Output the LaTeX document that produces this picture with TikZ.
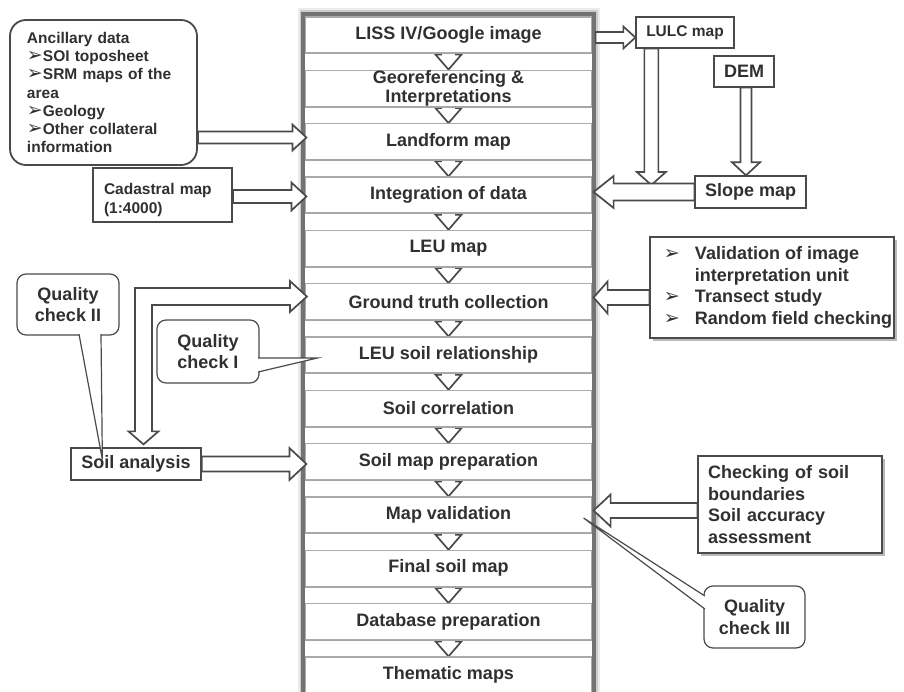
\documentclass[tikz,border=0pt]{standalone}
\usepackage{fontspec}
\setmainfont{Liberation Sans}
\newfontfamily\dejavu{DejaVu Sans}
\usetikzlibrary{calc,shadows}
\definecolor{tc}{HTML}{303030}
\definecolor{lc}{HTML}{4a4a4a}
\definecolor{sc}{HTML}{ababab}
\pgfdeclarelayer{bg}
\pgfsetlayers{bg,main}
\newcommand{\bul}{\smash{\dejavu\fontsize{19}{19}\selectfont ➢}}
\newcommand{\bulv}{\smash{\dejavu\fontsize{19}{19}\selectfont ➢}}
\newcommand{\fntS}{\fontsize{18}{19.5}\selectfont\bfseries}
\newcommand{\fntSm}{\fontsize{15.5}{18.3}\selectfont\bfseries}
\newcommand{\fntL}{\fontsize{18}{21.7}\selectfont\bfseries}
\newcommand{\fntQ}{\fontsize{18}{21.5}\selectfont\bfseries}
% block arrows: start, tip, half shaft, half head, head length
\newcommand{\rarr}[5]{\draw[barrow] let \p1=#1, \p2=#2 in (\x1,\y1+#3) -- (\x2-#5,\y1+#3) -- (\x2-#5,\y1+#4) -- (\x2,\y1) -- (\x2-#5,\y1-#4) -- (\x2-#5,\y1-#3) -- (\x1,\y1-#3) -- cycle;}
\newcommand{\larr}[5]{\draw[barrow] let \p1=#1, \p2=#2 in (\x1,\y1+#3) -- (\x2+#5,\y1+#3) -- (\x2+#5,\y1+#4) -- (\x2,\y1) -- (\x2+#5,\y1-#4) -- (\x2+#5,\y1-#3) -- (\x1,\y1-#3) -- cycle;}
\newcommand{\darr}[5]{\draw[barrow] let \p1=#1, \p2=#2 in (\x1+#3,\y1) -- (\x1+#3,\y2+#5) -- (\x1+#4,\y2+#5) -- (\x1,\y2) -- (\x1-#4,\y2+#5) -- (\x1-#3,\y2+#5) -- (\x1-#3,\y1) -- cycle;}
\newcommand{\calltail}[3]{\fill[white] #1 -- #3 -- #2 -- cycle; \draw[calline] #1 -- #3 -- #2;}
\tikzset{
  stage/.style={draw=sc, line width=1.2pt, fill=white, minimum width=286pt, minimum height=36pt, inner sep=0pt, align=center, font=\fntS, text=tc},
  barrow/.style={draw=lc, line width=1.7pt, fill=white, line join=miter},
  sbox/.style={draw=lc, line width=1.3pt, fill=white, inner sep=0pt, text=tc},
  shadowed/.style={drop shadow={shadow xshift=3pt, shadow yshift=-3pt, fill=black!45, opacity=0.6}},
  callout/.style={draw=lc, line width=1.2pt, fill=white, rounded corners=9pt, inner sep=0pt, align=center, font=\fntQ, text=tc},
  calline/.style={draw=lc, line width=1.2pt, line join=miter},
}
\begin{document}
\begin{tikzpicture}[x=1pt,y=-1pt]
\useasboundingbox (0,0) rectangle (904,692);

% central stages
\node[stage] (s1) at (448.5,35) {LISS IV/Google image};
\node[stage] (s2) at (448.5,88.3) {Georeferencing \&\\Interpretations};
\node[stage] (s3) at (448.5,141.7) {Landform map};
\node[stage] (s4) at (448.5,195) {Integration of data};
\node[stage] (s5) at (448.5,248.3) {LEU map};
\node[stage] (s6) at (448.5,301.7) {Ground truth collection};
\node[stage] (s7) at (448.5,355) {LEU soil relationship};
\node[stage] (s8) at (448.5,408.3) {Soil correlation};
\node[stage] (s9) at (448.5,461.7) {Soil map preparation};
\node[stage] (s10) at (448.5,515) {Map validation};
\node[stage] (s11) at (448.5,568.3) {Final soil map};
\node[stage] (s12) at (448.5,621.7) {Database preparation};
\node[stage] (s13) at (448.5,675) {Thematic maps};
\foreach \n in {1,...,13} \draw[gray!70, line width=1.6pt] (s\n.south west) -- (s\n.south east);

\begin{pgfonlayer}{bg}
\draw[black!8, line width=11pt] (303,14) rectangle (594,720);
\draw[black!20, line width=7pt] (303,14) rectangle (594,720);
\draw[black!55, line width=3.5pt, fill=white] (303,14) rectangle (594,720);
\foreach \i [count=\j from 2] in {1,...,12} {
  \darr{($(s\i.south)+(0,-8)$)}{(s\j.north)}{7.5pt}{13pt}{15pt}
}
\end{pgfonlayer}

% left side
\node[draw=lc, line width=1.8pt, rounded corners=16pt, fill=white, text width=153pt, inner xsep=17pt, inner ysep=0pt, minimum height=145pt, align=left, font=\fntSm, text=tc] (anc) at (103.5,92.5)
  {Ancillary data\\\bul SOI toposheet\\\bul SRM maps of the\\area\\\bul Geology\\\bul Other collateral\\information};
\node[sbox, line width=1.8pt, text width=117pt, inner xsep=11pt, minimum height=54pt, align=left, font=\fntSm] (cad) at (162.5,195) {\rule{0pt}{21pt}Cadastral map\\(1:4000)};
\node[sbox, minimum width=130pt, minimum height=32pt, font=\fntS] (soil) at (136,464) {Soil analysis};
\node[callout, minimum width=102pt, minimum height=61pt] (qc2) at (68,304.5) {Quality\\check II};
\node[callout, minimum width=102pt, minimum height=63pt] (qc1) at (208,351.5) {Quality\\check I};

% right side
\node[sbox, minimum width=98pt, minimum height=31pt, font=\fntSm] (lulc) at (685,32.5) {LULC map};
\node[sbox, minimum width=60pt, minimum height=31pt, font=\fntS] (dem) at (744,71.5) {DEM};
\node[sbox, minimum width=111pt, minimum height=32pt, font=\fntS] (slope) at (750.5,192) {Slope map};
\node[sbox, shadowed, minimum width=244pt, minimum height=101pt, align=left, font=\fntL] (valid) at (772,287.5)
  {\hspace*{12pt}\makebox[31pt][l]{\bulv}Validation of image\\\hspace*{43pt}interpretation unit\\\hspace*{12pt}\makebox[31pt][l]{\bulv}Transect study\\\hspace*{12pt}\makebox[31pt][l]{\bulv}Random field checking};
\node[sbox, shadowed, text width=164pt, inner xsep=10pt, minimum height=97pt, align=left, font=\fntL] (check) at (790,504.5)
  {Checking of soil\\boundaries\\Soil accuracy\\assessment};
\node[callout, minimum width=101pt, minimum height=62pt] (qc3) at (754.5,617) {Quality\\check III};

% connector points
\coordinate (ancA) at ($(anc.east)+(0,45)$);
\coordinate (cadA) at ($(cad.east)+(0,1.5)$);
\coordinate (lc) at (143.5,296.5);
\coordinate (lA) at ($(s1.east)+(3.5,2.5)$);
\coordinate (lB) at ($(lulc.south west)+(16,0)$);
\coordinate (lulcT) at ($(slope.west)+(-43,-7)$);
\coordinate (dA) at ($(dem.south)+(2,0)$);
\coordinate (vA) at ($(valid.west)+(0,10)$);
\coordinate (cA) at ($(check.west)+(0,6)$);
\coordinate (qc2t) at ($(soil.north west)+(32,12)$);

% left arrows
\rarr{(ancA)}{($(s3.west |- ancA)+(1.5,0)$)}{6pt}{13pt}{14pt}
\rarr{(cadA)}{($(s4.west |- cadA)+(1.5,0)$)}{6.5pt}{14pt}{15pt}
\rarr{(soil.east)}{($(s9.west |- soil.east)+(1.5,0)$)}{7.5pt}{16pt}{17pt}
\draw[barrow] let \p1=(lc), \p2=($(s6.west |- lc)+(2,0)$), \p3=($(soil.north -| lc)+(0,-3)$) in
  (\x1-8.5pt,\y1+8.5pt) -- (\x2-17pt,\y1+8.5pt) -- (\x2-17pt,\y1+15.5pt) -- (\x2,\y1)
  -- (\x2-17pt,\y1-15.5pt) -- (\x2-17pt,\y1-8.5pt) -- (\x1+8.5pt,\y1-8.5pt)
  -- (\x1+8.5pt,\y3+13pt) -- (\x1+15pt,\y3+13pt) -- (\x1,\y3) -- (\x1-15pt,\y3+13pt)
  -- (\x1-8.5pt,\y3+13pt) -- cycle;

% right arrows
\rarr{(lA)}{(lulc.west |- lA)}{5.5pt}{11pt}{12pt}
\darr{(lB)}{(lulcT)}{7pt}{14.5pt}{13pt}
\darr{(dA)}{(slope.north)}{5.5pt}{14pt}{13pt}
\larr{(slope.west)}{($(s4.east |- slope.west)+(1.5,0)$)}{8.5pt}{16pt}{20pt}
\larr{(vA)}{($(s6.east |- vA)+(1.5,0)$)}{7.5pt}{16pt}{14pt}
\larr{(cA)}{($(s10.east |- cA)+(1.5,0)$)}{7.5pt}{16pt}{17pt}

% callout tails
\calltail{($(qc2.south)+(11,-1.5)$)}{($(qc2.south)+(33,-1.5)$)}{(qc2t)}
\calltail{($(qc1.east)+(-1.5,6.5)$)}{($(qc1.east)+(-1.5,20.5)$)}{($(s7.west)+(12.5,3)$)}
\calltail{($(qc3.west)+(1.5,-21)$)}{($(qc3.west)+(1.5,-8)$)}{($(s10.east)+(-8.5,3)$)}
\end{tikzpicture}
\end{document}
